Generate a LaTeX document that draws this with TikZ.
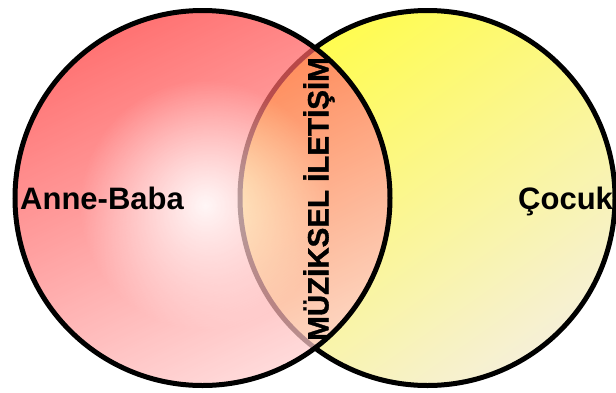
\documentclass[tikz,border=0pt]{standalone}
\usepackage{fontspec}
\setmainfont{Liberation Sans}
\newfontfamily\vboldfont{Liberation Sans Bold}[FakeBold=1.2]
\usetikzlibrary{fadings}
\tikzfading[name=glowfade, inner color=transparent!0, outer color=transparent!100]
\definecolor{redtop}{RGB}{255,60,60}
\definecolor{redbot}{RGB}{255,205,205}
\definecolor{yeltop}{RGB}{255,252,80}
\definecolor{yelbot}{RGB}{246,240,215}
\tikzset{
  ring/.style={draw=black, line width=5pt},
  lbl/.style={font=\fontsize{31}{31}\selectfont\bfseries, inner sep=0pt, anchor=base west},
  vlbl/.style={font=\fontsize{29.5}{29.5}\selectfont\vboldfont, inner sep=0pt, rotate=90, anchor=base}
}
\begin{document}
\begin{tikzpicture}[x=1pt,y=-1pt]
\useasboundingbox (0,0) rectangle (616,392);
\clip (0,0) rectangle (616,392);
\coordinate (cl) at (202.5,198);
\coordinate (cr) at (427.5,198);
% right (yellow) circle
\shade[top color=yeltop, bottom color=yelbot, shading angle=35] (cr) circle (187.5);
\draw[ring] (cr) circle (187.5);
% left (red) circle, semi-transparent
\begin{scope}[transparency group, opacity=0.72]
  \shade[top color=redtop, bottom color=redbot, shading angle=25] (cl) circle (187.5);
  \begin{scope}
    \clip (cl) circle (187.5);
    \fill[white, path fading=glowfade, fill opacity=0.9] (205,205) circle (125);
  \end{scope}
\end{scope}
\draw[ring] (cl) circle (187.5);
% labels
\node[lbl] (anne) at (20,209) {Anne-Baba};
\node[lbl] (cocuk) at (518,209) {Çocuk};
\node[vlbl] (muz) at (328.5,199) {MÜZİKSEL İLETİŞİM};
\end{tikzpicture}
\end{document}
